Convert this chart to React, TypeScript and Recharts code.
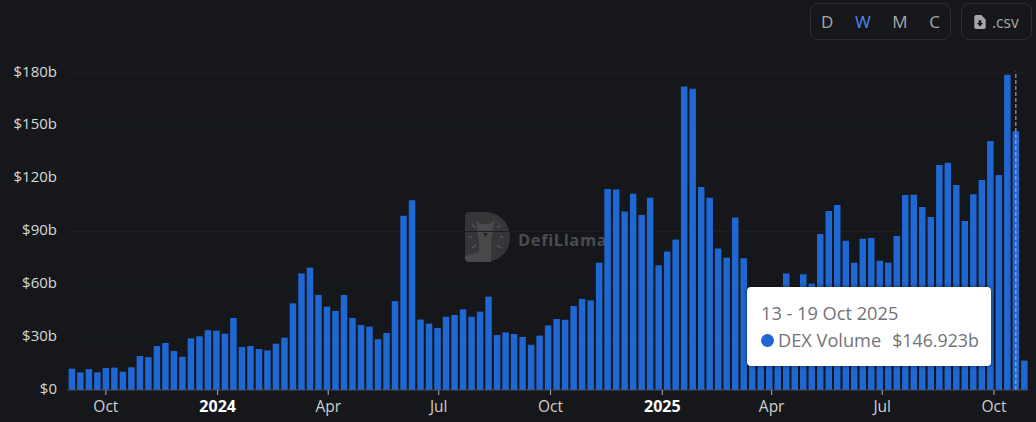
import React from 'react';
import { BarChart, Bar, XAxis, YAxis, CartesianGrid, Tooltip, ReferenceLine } from 'recharts';

const DAY = 86400000;
const firstWeekEnd = Date.parse('2023-09-03');
const weekVolumes: number[] = [
  12.1, 10, 11.9, 10, 12.5, 12.7, 10.4, 12.9, 19.3, 18.7,
  25, 26.7, 22.1, 18.9, 29.3, 30.5, 34, 33.7, 32, 40.9,
  24.4, 25, 23.3, 22.5, 26.3, 29.7, 49.2, 66.2, 69.5, 54,
  47.3, 44.9, 54, 40.9, 36.9, 36, 28.8, 32.4, 50.5, 99,
  107.7, 40, 37.7, 35.2, 41.6, 42.6, 45.8, 41.6, 44.5, 53,
  31.2, 32.7, 31.8, 30.1, 25.7, 30.9, 36.7, 40.3, 39.9, 47.7,
  51.7, 50.9, 72.3, 114.1, 113.8, 101.3, 111.5, 99.4, 109.2, 70.8,
  78.6, 85.4, 172.4, 171.1, 115.3, 109.2, 80.3, 75.1, 97.9, 74.8,
  55, 50, 48, 55, 66.2, 52, 65.7, 60.4, 88.6, 101.6,
  105, 84.8, 72.3, 85.9, 86.3, 73.4, 72.3, 87.4, 110.7, 110.9,
  103.9, 98.2, 127.8, 129.1, 116.4, 96, 111.1, 119.2, 141.4, 122.1,
  179, 146.923, 16.7,
];
const tickDates = ['2023-10-01', '2024-01-01', '2024-04-01', '2024-07-01', '2024-10-01', '2025-01-01', '2025-04-01', '2025-07-01', '2025-10-01'];
const tickLabels = ['Oct', '2024', 'Apr', 'Jul', 'Oct', '2025', 'Apr', 'Jul', 'Oct'];
const yTicks = [0, 30, 60, 90, 120, 150, 180];
const periodButtons = ['D', 'W', 'M', 'C'];
const selectedIndex = 111;

const data = weekVolumes.map((volume, i) => ({ date: firstWeekEnd + i * 7 * DAY, volume }));
const tickValues = tickDates.map((d) => Date.parse(d));
const xDomain = [Date.parse('2023-08-30'), Date.parse('2025-10-29')];

const FONT = '"Open Sans", sans-serif';

const XTick = (props: any) => {
  const { x, y, payload } = props;
  const label = tickLabels[tickValues.indexOf(payload.value)];
  const isYear = /^\d+$/.test(label);
  return (
    <text x={x} y={y + 15} textAnchor="middle" fontFamily={FONT} fontSize={isYear ? 16 : 15.5} fontWeight={isYear ? 700 : 400} fill={isYear ? '#ffffff' : '#cfd0d1'}>
      {label}
    </text>
  );
};

const YTick = (props: any) => {
  const { x, y, payload } = props;
  return (
    <text x={x} y={y + 3.5} textAnchor="end" fontFamily={FONT} fontSize={15} fill="#d6d7d8">
      {`$${payload.value}${payload.value ? 'b' : ''}`}
    </text>
  );
};

const ChartTooltip = (props: any) => {
  const point = props.payload?.[0]?.payload;
  if (!point) return null;
  const end = new Date(point.date);
  const start = new Date(point.date - 6 * DAY);
  const month = end.toLocaleString('en-GB', { month: 'short', timeZone: 'UTC' });
  return (
    <div style={{ width: 244, height: 79, boxSizing: 'border-box', background: '#fff', borderRadius: 4, boxShadow: '0 0 4px rgba(0,0,0,0.5)', padding: '13px 0 12px 14px', fontFamily: FONT, fontSize: 18.2, color: '#727379', lineHeight: '27px', whiteSpace: 'nowrap' }}>
      <div>{`${start.getUTCDate()} - ${end.getUTCDate()} ${month} ${end.getUTCFullYear()}`}</div>
      <div style={{ display: 'flex', alignItems: 'center' }}>
        <span style={{ width: 13, height: 13, flexShrink: 0, borderRadius: '50%', background: '#1f67d2', marginRight: 4 }} />
        <span>DEX Volume</span>
        <span style={{ marginLeft: 11, fontSize: 17.8 }}>{`$${point.volume.toFixed(3)}b`}</span>
      </div>
    </div>
  );
};

const Watermark = () => (
  <div style={{ position: 'absolute', left: 465, top: 212, display: 'flex', alignItems: 'center' }}>
    <svg width={45} height={50} viewBox="0 0 45 50">
      <path d="M4 0H20C34 0 45 11 45 25C45 39 34 50 20 50H4C2 50 0 48 0 46V4C0 2 2 0 4 0Z" fill="#353638" />
      <path d="M0 44L14 40V50H4C2 50 0 48 0 46Z" fill="#48494b" />
      <path d="M11 8L16 12H24L30 8L28 16L27 24L26 28V50H14V28L13 24L12 16Z" fill="#48494b" />
      <path d="M18 21H23L20.5 25Z" fill="#252628" />
      <path d="M7 13L11 16M36 13L32 16M4 25H7M35 25H38M7 36L11 33M36 36L32 33" stroke="#55565a" strokeWidth={1.5} fill="none" />
    </svg>
    <span style={{ marginLeft: 8, marginTop: 5, fontFamily: FONT, fontWeight: 700, fontSize: 16.5, letterSpacing: 0.6, color: '#4b4c4e' }}>DefiLlama</span>
  </div>
);

const boxStyle: React.CSSProperties = { position: 'absolute', top: 3, height: 37, boxSizing: 'border-box', border: '1px solid #2c2e31', borderRadius: 8, display: 'flex', alignItems: 'center', fontFamily: FONT, fontSize: 17 };

export default function App() {
  return (
    <div style={{ position: 'fixed', left: 0, top: 0, width: 1036, height: 422, background: '#15171a', overflow: 'hidden' }}>
      <Watermark />
      <div style={{ ...boxStyle, left: 810, width: 141, justifyContent: 'space-between', padding: '0 10px' }}>
        {periodButtons.map((b) => (
          <span key={b} style={{ color: b === 'W' ? '#4a8af0' : '#a5a7a9', fontWeight: 500 }}>{b}</span>
        ))}
      </div>
      <div style={{ ...boxStyle, left: 961, width: 71, paddingLeft: 12, fontSize: 15.5, color: '#a5a7a9' }}>
        <svg width={12} height={14} viewBox="0 0 13 16" style={{ marginRight: 6 }}>
          <path d="M2 0H8L13 5V14C13 15 12 16 11 16H2C1 16 0 15 0 14V2C0 1 1 0 2 0Z" fill="#a5a7a9" />
          <path d="M5 6H8V9H10L6.5 13L3 9H5Z" fill="#15171a" />
        </svg>
        .csv
      </div>
      <div style={{ position: 'absolute', left: 0, top: 0 }}>
        <BarChart width={1036} height={422} data={data} margin={{ top: 73, right: 8, bottom: 0, left: 0 }}>
          <CartesianGrid vertical={false} stroke="#1c1e21" />
          <XAxis
            dataKey="date"
            type="number"
            domain={xDomain}
            ticks={tickValues}
            interval={0}
            height={32}
            tick={<XTick />}
            tickSize={5}
            axisLine={{ stroke: '#4c4d50' }}
            tickLine={{ stroke: '#a9aaac' }}
          />
          <YAxis
            width={67}
            domain={[0, 180]}
            ticks={yTicks}
            interval={0}
            axisLine={false}
            tickLine={false}
            tickMargin={4}
            tick={<YTick />}
          />
          <Tooltip
            active
            defaultIndex={selectedIndex}
            cursor={false}
            isAnimationActive={false}
            position={{ x: 747, y: 287 }}
            wrapperStyle={{ outline: 'none', zIndex: 5 }}
            content={<ChartTooltip />}
          />
          <Bar dataKey="volume" fill="#1f67d2" barSize={6.5} isAnimationActive={false} activeBar={false} />
          <ReferenceLine
            segment={[{ x: data[selectedIndex].date, y: 0 }, { x: data[selectedIndex].date, y: 180.8 }]}
            ifOverflow="visible"
            stroke="#b9bbbd"
            strokeDasharray="4 2"
          />
        </BarChart>
      </div>
    </div>
  );
}
